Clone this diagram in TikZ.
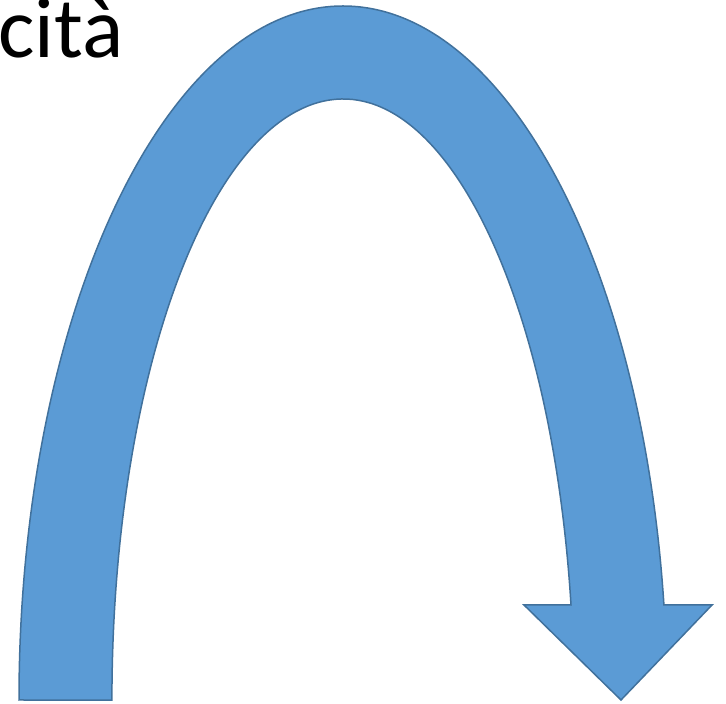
\documentclass[tikz,border=0pt]{standalone}
\usepackage{fontspec}
\setmainfont{Carlito}
\usepackage{tikz}
\usetikzlibrary{positioning,calc}
\definecolor{arrowfill}{RGB}{91, 155, 213}
\definecolor{arrowline}{RGB}{65, 113, 156}

\begin{document}
\begin{tikzpicture}[
    x=1pt, y=1pt,
    bigarrow/.style={fill=arrowfill, draw=arrowline, line width=1.5pt, line join=miter},
    title/.style={anchor=base west, inner sep=0pt, font=\fontsize{86}{90}\selectfont}
]
    \useasboundingbox (0,0) rectangle (726,704);

    % Text at the top, cut by the border
    \begin{scope}
        \clip (0,0) rectangle (726,704);
        \node[title] (word) at (-2,646) {cità};
    \end{scope}

    % Curved arrow
    \coordinate (centre) at (343,4);
    \draw[bigarrow] (19,4)
        arc[start angle=180, end angle=7.87, x radius=324, y radius=694]
        -- (712,99) -- (621,4) -- (524,99) -- (571,99)
        arc[start angle=9.10, end angle=180, x radius=231, y radius=601]
        -- cycle;

\end{tikzpicture}
\end{document}
